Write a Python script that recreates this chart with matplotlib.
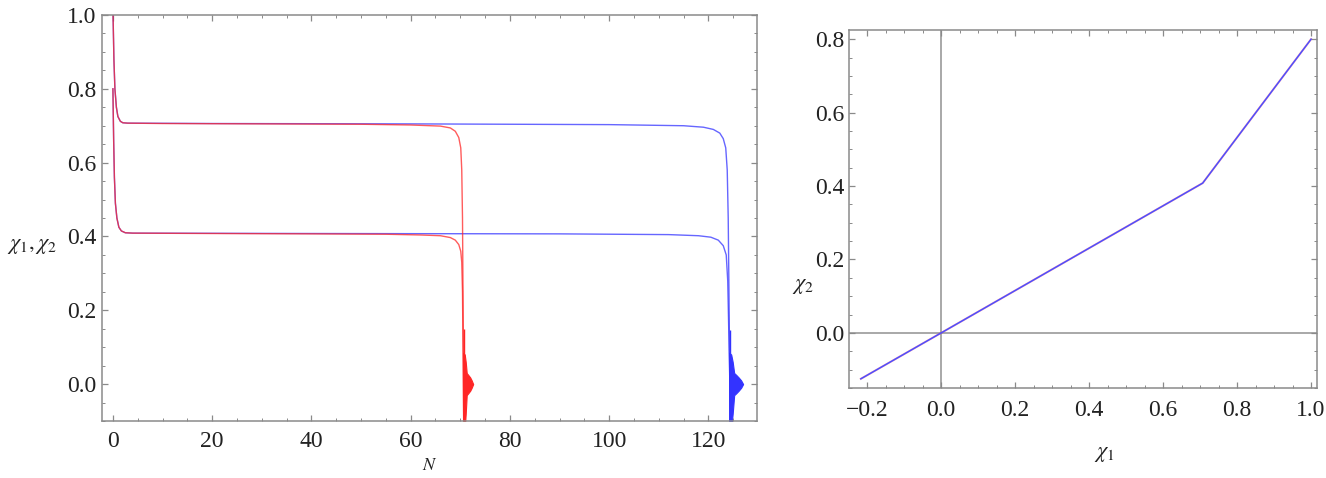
import matplotlib
matplotlib.use("Agg")
import matplotlib.pyplot as plt
from matplotlib.ticker import MultipleLocator

plt.rcParams['mathtext.fontset'] = 'stix'
plt.rcParams['font.family'] = ['Liberation Serif', 'DejaVu Serif']

# ---------------- data ----------------
# left panel: red run
red_N1 = [0, 0.2, 0.4, 0.7, 1.0, 1.5, 2.0, 3, 10, 30, 50, 60, 64, 66, 68, 69, 69.7, 70.1, 70.3, 70.45, 70.55, 70.65, 70.7]
red_x1 = [1.02, 0.88, 0.80, 0.75, 0.725, 0.712, 0.708, 0.707, 0.706, 0.705, 0.704, 0.702, 0.700, 0.699, 0.694, 0.685, 0.668, 0.64, 0.58, 0.45, 0.25, 0.05, -0.12]
red_N2 = [0, 0.15, 0.3, 0.5, 0.8, 1.2, 1.7, 2.5, 4, 20, 40, 55, 62, 66, 68, 69, 69.7, 70.1, 70.3, 70.45, 70.55, 70.65, 70.7]
red_x2 = [0.80, 0.66, 0.56, 0.49, 0.45, 0.425, 0.415, 0.41, 0.409, 0.408, 0.407, 0.406, 0.404, 0.402, 0.397, 0.39, 0.378, 0.36, 0.33, 0.25, 0.10, -0.05, -0.12]
red_osc_N = [70.6, 70.9, 71.1, 71.3, 71.6, 72.0, 72.3, 72.6]
red_osc_hi = [0.085, 0.08, 0.06, 0.03, 0.025, 0.018, 0.01, 0.0]
red_osc_lo = [-0.12, -0.12, -0.08, -0.03, -0.025, -0.018, -0.01, 0.0]
red_spike_N = 70.8
red_spike = (-0.12, 0.15)

# left panel: blue run
blue_N1 = [0, 0.2, 0.4, 0.7, 1.0, 1.5, 2.0, 3, 20, 60, 100, 115, 119, 121, 122.3, 123.0, 123.5, 123.8, 124.0, 124.15, 124.3, 124.4]
blue_x1 = [1.02, 0.88, 0.80, 0.75, 0.725, 0.712, 0.708, 0.707, 0.706, 0.705, 0.703, 0.700, 0.696, 0.690, 0.680, 0.665, 0.64, 0.58, 0.45, 0.25, 0.03, -0.12]
blue_N2 = [0, 0.15, 0.3, 0.5, 0.8, 1.2, 1.7, 2.5, 4, 40, 90, 112, 118, 120.5, 122, 123, 123.6, 123.9, 124.1, 124.3, 124.4]
blue_x2 = [0.80, 0.66, 0.56, 0.49, 0.45, 0.425, 0.415, 0.41, 0.409, 0.408, 0.407, 0.405, 0.402, 0.398, 0.39, 0.375, 0.35, 0.28, 0.15, 0.02, -0.12]
blue_osc_N = [124.2, 124.6, 124.9, 125.2, 125.6, 126.1, 126.6, 127.0]
blue_osc_hi = [0.085, 0.08, 0.06, 0.03, 0.025, 0.018, 0.01, 0.0]
blue_osc_lo = [-0.12, -0.12, -0.08, -0.03, -0.025, -0.018, -0.01, 0.0]
blue_spike_N = 124.4
blue_spike = (-0.12, 0.147)

# right panel: trajectory chi2 vs chi1
path_x1 = [1.0, 0.707, 0.0, -0.217]
path_x2 = [0.8, 0.408, 0.0, -0.125]

left_xticks = [0, 20, 40, 60, 80, 100, 120]
left_yticks = [0.0, 0.2, 0.4, 0.6, 0.8, 1.0]
right_xticks = [-0.2, 0.0, 0.2, 0.4, 0.6, 0.8, 1.0]
right_yticks = [0.0, 0.2, 0.4, 0.6, 0.8]

RED = (1.0, 0.15, 0.15)
BLUE = (0.2, 0.2, 1.0)
FRAME = '#8a8a8a'
TXT = '#222222'

W, H = 1326, 478
fig = plt.figure(figsize=(W / 100, H / 100), dpi=100)

def box(l, r, t, b):
    return [l / W, 1 - b / H, (r - l) / W, (b - t) / H]

def style(ax, xmaj, xmin, ymaj, ymin, xpad, ypad):
    for s in ax.spines.values():
        s.set_color(FRAME)
        s.set_linewidth(1.1)
    ax.xaxis.set_major_locator(MultipleLocator(xmaj))
    ax.xaxis.set_minor_locator(MultipleLocator(xmin))
    ax.yaxis.set_major_locator(MultipleLocator(ymaj))
    ax.yaxis.set_minor_locator(MultipleLocator(ymin))
    ax.tick_params(which='both', direction='in', top=True, right=True,
                   color=FRAME, labelcolor=TXT, labelsize=17)
    ax.tick_params(which='major', length=4.5, width=0.9)
    ax.tick_params(which='minor', length=2.2, width=0.7)
    ax.tick_params(axis='x', pad=xpad)
    ax.tick_params(axis='y', pad=ypad)

# ---------------- left panel ----------------
ax1 = fig.add_axes(box(102, 757, 15, 421))
ax1.plot(blue_N1, blue_x1, color=BLUE, lw=1.0, alpha=0.75)
ax1.plot(blue_N2, blue_x2, color=BLUE, lw=1.0, alpha=0.75)
ax1.fill_between(blue_osc_N, blue_osc_lo, blue_osc_hi, color=BLUE, lw=0.8)
ax1.vlines(blue_spike_N, *blue_spike, color=BLUE, lw=1.0)
ax1.plot(red_N1, red_x1, color=RED, lw=1.0, alpha=0.75)
ax1.plot(red_N2, red_x2, color=RED, lw=1.0, alpha=0.75)
ax1.fill_between(red_osc_N, red_osc_lo, red_osc_hi, color=RED, lw=0.8)
ax1.vlines(red_spike_N, *red_spike, color=RED, lw=1.0)
ax1.set_xlim(-2.2, 129.8)
ax1.set_ylim(-0.1, 1.0)
style(ax1, 20, 5, 0.2, 0.05, 7, 4)
ax1.set_xticks(left_xticks)
ax1.set_yticks(left_yticks)
ax1.set_xticklabels([str(v) for v in left_xticks])
ax1.set_yticklabels([f"{v:.1f}" for v in left_yticks])

# ---------------- right panel ----------------
ax2 = fig.add_axes(box(849, 1317, 30, 388))
ax2.axhline(0, color='#9a9a9a', lw=1.2, zorder=1)
ax2.axvline(0, color='#9a9a9a', lw=1.2, zorder=1)
ax2.plot(path_x1, path_x2, color=RED, lw=1.5, alpha=0.35, zorder=2)
ax2.plot(path_x1, path_x2, color=(0.3, 0.3, 1.0), lw=1.1, alpha=1.0, zorder=3)
ax2.set_xlim(-0.249, 1.016)
ax2.set_ylim(-0.15, 0.825)
style(ax2, 0.2, 0.05, 0.2, 0.05, 9, 3)
ax2.set_xticks(right_xticks)
ax2.set_yticks(right_yticks)
ax2.set_xticklabels([f"{v:.1f}".replace('-', '\u2212') for v in right_xticks])
ax2.set_yticklabels([f"{v:.1f}" for v in right_yticks])

# ---------------- axis labels ----------------
fig.text(32 / W, 1 - 247 / H, r'$\chi_1,\chi_2$', ha='center', va='center', fontsize=16, color=TXT)
fig.text(430 / W, 1 - 466 / H, r'$N$', ha='center', va='center', fontsize=13, color=TXT)
fig.text(803 / W, 1 - 287 / H, r'$\chi_2$', ha='center', va='center', fontsize=16, color=TXT)
fig.text(1104 / W, 1 - 455 / H, r'$\chi_1$', ha='center', va='center', fontsize=16, color=TXT)

fig.savefig('out.png', dpi=100)
